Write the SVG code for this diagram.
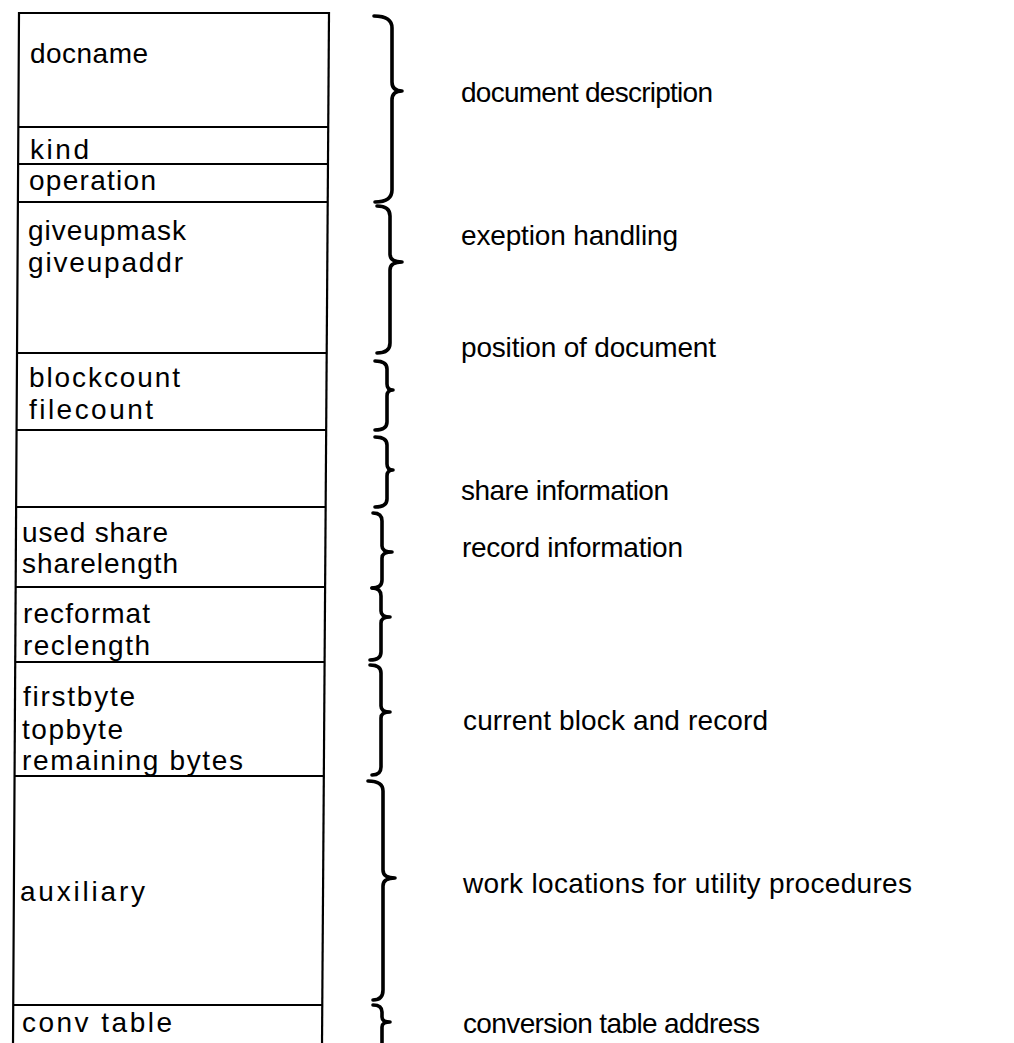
<svg xmlns="http://www.w3.org/2000/svg" width="1014" height="1043" viewBox="0 0 1014 1043">
<style>
  .box { fill: none; stroke: #000; stroke-width: 2.2; stroke-linecap: square; }
  .div { stroke: #000; stroke-width: 2; }
  .brace { fill: none; stroke: #000; stroke-width: 3.6; stroke-linecap: round; stroke-linejoin: round; }
  text { font-family: "Liberation Sans", Arial, sans-serif; font-size: 28px; fill: #000; }
</style>
<rect x="0" y="0" width="1014" height="1043" fill="#fff"/>
<g id="record-box">
  <line class="box" x1="19" y1="13" x2="13" y2="1045"/>
  <line class="box" x1="329" y1="13" x2="322" y2="1045"/>
  <line class="div" x1="19" y1="13" x2="329" y2="13"/>
  <line class="div" x1="18.3" y1="127" x2="328.2" y2="127"/>
  <line class="div" x1="18.1" y1="164" x2="328" y2="164"/>
  <line class="div" x1="17.9" y1="202" x2="327.7" y2="202"/>
  <line class="div" x1="17" y1="353" x2="326.7" y2="353"/>
  <line class="div" x1="16.6" y1="430" x2="326.2" y2="430"/>
  <line class="div" x1="16.1" y1="507" x2="325.6" y2="507"/>
  <line class="div" x1="15.7" y1="587" x2="325.1" y2="587"/>
  <line class="div" x1="15.2" y1="662" x2="324.6" y2="662"/>
  <line class="div" x1="14.5" y1="776" x2="323.8" y2="776"/>
  <line class="div" x1="13.2" y1="1005" x2="322.3" y2="1005"/>
</g>
<g id="field-docname"><text x="30" y="63" textLength="118" lengthAdjust="spacing">docname</text></g>
<g id="field-kind"><text x="30" y="159" textLength="59" lengthAdjust="spacing">kind</text></g>
<g id="field-operation"><text x="29" y="190" textLength="127" lengthAdjust="spacing">operation</text></g>
<g id="field-giveup">
  <text x="28" y="240" textLength="158" lengthAdjust="spacing">giveupmask</text>
  <text x="28" y="272" textLength="155" lengthAdjust="spacing">giveupaddr</text>
</g>
<g id="field-position">
  <text x="29" y="387" textLength="151" lengthAdjust="spacing">blockcount</text>
  <text x="29" y="419" textLength="124" lengthAdjust="spacing">filecount</text>
</g>
<g id="field-blank"></g>
<g id="field-share">
  <text x="22" y="542" textLength="146" lengthAdjust="spacing">used share</text>
  <text x="22" y="573" textLength="156" lengthAdjust="spacing">sharelength</text>
</g>
<g id="field-record">
  <text x="23" y="623" textLength="127" lengthAdjust="spacing">recformat</text>
  <text x="23" y="655" textLength="127" lengthAdjust="spacing">reclength</text>
</g>
<g id="field-current">
  <text x="23" y="706" textLength="112" lengthAdjust="spacing">firstbyte</text>
  <text x="22" y="739" textLength="101" lengthAdjust="spacing">topbyte</text>
  <text x="22" y="770" textLength="221" lengthAdjust="spacing">remaining bytes</text>
</g>
<g id="field-auxiliary"><text x="20" y="901" textLength="125" lengthAdjust="spacing">auxiliary</text></g>
<g id="field-convtable"><text x="22" y="1032" textLength="150" lengthAdjust="spacing">conv table</text></g>
<g id="braces">
  <path class="brace" d="M374,16 Q392,16 392,28 L392,82 Q392,91 402,91 Q392,91 392,100 L392,190 Q392,202 375,202"/>
  <path class="brace" d="M377,206 Q390,206 390,216 L390,254 Q390,262 402,262 Q390,262 390,270 L390,343 Q390,353 377,353"/>
  <path class="brace" d="M375,361 Q387,361 387,369 L387,384 Q387,390 393,390 Q387,390 387,396 L387,422 Q387,430 375,430"/>
  <path class="brace" d="M375,437 Q387,437 387,445 L387,464 Q387,470 393,470 Q387,470 387,476 L387,499 Q387,507 375,507"/>
  <path class="brace" d="M373,513 Q382,513 382,521 L382,546 Q382,552 392,552 Q382,552 382,558 L382,580 Q382,588 372,588"/>
  <path class="brace" d="M372,588 Q381,588 381,596 L381,611 Q381,617 390,617 Q381,617 381,623 L381,652 Q381,660 370,660"/>
  <path class="brace" d="M370,665 Q381,665 381,673 L381,706 Q381,712 390,712 Q381,712 381,718 L381,767 Q381,775 372,775"/>
  <path class="brace" d="M368,781 Q383,781 383,791 L383,870 Q383,878 395,878 Q383,878 383,886 L383,990 Q383,1000 373,1000"/>
  <path class="brace" d="M373,1005 Q382,1005 382,1012 L382,1017 Q382,1022 390,1022 Q382,1022 382,1027 L382,1045"/>
</g>
<g id="label-document-description"><text x="461" y="102" textLength="252" lengthAdjust="spacing">document description</text></g>
<g id="label-exception-handling"><text x="461" y="245" textLength="217" lengthAdjust="spacing">exeption handling</text></g>
<g id="label-position"><text x="461" y="357" textLength="255" lengthAdjust="spacing">position of document</text></g>
<g id="label-share"><text x="461" y="500" textLength="208" lengthAdjust="spacing">share information</text></g>
<g id="label-record"><text x="462" y="557" textLength="221" lengthAdjust="spacing">record information</text></g>
<g id="label-current"><text x="463" y="730" textLength="305" lengthAdjust="spacing">current block and record</text></g>
<g id="label-work"><text x="463" y="893" textLength="449" lengthAdjust="spacing">work locations for utility procedures</text></g>
<g id="label-conversion"><text x="463" y="1033" textLength="297" lengthAdjust="spacing">conversion table address</text></g>
</svg>
